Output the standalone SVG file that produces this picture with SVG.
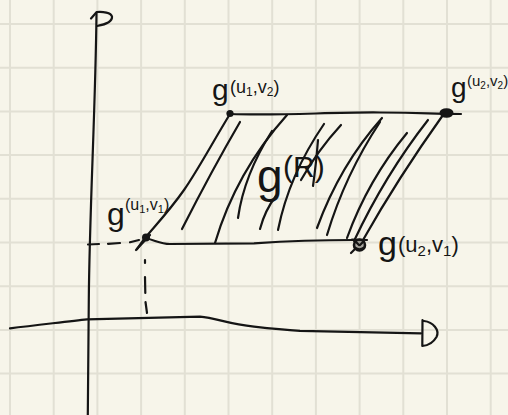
<svg xmlns="http://www.w3.org/2000/svg" width="508" height="415" viewBox="0 0 508 415">
<style>
.bg{fill:#f7f5ea}
.grid{stroke:#e2e0d4;stroke-width:2;fill:none}
.ink{stroke:#151515;stroke-width:2.2;fill:none;stroke-linecap:round;stroke-linejoin:round}
.dash{stroke:#151515;stroke-width:2.2;fill:none;stroke-linecap:round}
.dot{fill:#151515}
.lbl{font-family:"Liberation Sans",Arial,sans-serif;fill:#151515}
</style>
<rect class="bg" x="0" y="0" width="508" height="415"/>
<path class="grid" d="M10,0V415M53.7,0V415M97.4,0V415M141.1,0V415M184.8,0V415M228.5,0V415M272.2,0V415M315.9,0V415M359.6,0V415M403.3,0V415M447,0V415M490.7,0V415M0,24H508M0,67.7H508M0,111.4H508M0,155.1H508M0,198.8H508M0,242.5H508M0,286.2H508M0,329.9H508M0,373.6H508"/>

<g id="axes">
  <path class="ink" d="M96.5,13 C95.5,110 89.5,210 88.8,300 L87.8,415"/>
  <path class="ink" d="M91,18.5 L96.7,12 C103,11.5 111,12.5 112,16.5 C112.5,21 108,24 97,26"/>
  <path class="ink" d="M10,328.3 C40,325 70,321 87,319.3 L200,316.7 C216,318 228,324 254,326.7 C268,328.3 285,330 300,330.8 L421,333.3"/>
  <path class="ink" d="M422.5,320 L422.3,346 M424,321 C433,322 440,330 436.5,337 C433,343 428,345.5 422.5,346"/>
</g>

<g id="guides">
  <path class="dash" d="M88,244.5 L99,244 M108,243.8 L120,243 M130,242.2 L139,240"/>
  <path class="dash" d="M145,260 L145,263 M145,277 L145.3,293 M145.5,302 L147,313"/>
</g>

<g id="region">
  <path class="ink" d="M230,114 C280,116 330,112 380,112.5 S430,114 461,114"/>
  <path class="ink" d="M145,238 C155,240 160,244 170,244 L254,243.3 C290,241 325,240 353,240"/>
  <path class="ink" d="M230,114 C214,140 198,170 184,190 C170,210 155,226 145,238 L137,249"/>
  <path class="ink" d="M443,115 Q398,178 363,240"/>
  <g id="hatching">
    <path class="ink" d="M240,122 Q212,170 182,229"/>
    <path class="ink" d="M287,115 Q236,172 215,243"/>
    <path class="ink" d="M272,131 Q244,175 238,218"/>
    <path class="ink" d="M276,196 Q265,210 260,229"/>
    <path class="ink" d="M324,124 Q289,175 278,230"/>
    <path class="ink" d="M341,125 Q318,150 301,180"/>
    <path class="ink" d="M382,118 Q340,165 317,228"/>
    <path class="ink" d="M380,122 Q345,175 327,235"/>
    <path class="ink" d="M407,133 Q368,180 347,238"/>
    <path class="ink" d="M428,120 Q385,175 354,241"/>
    <path class="ink" d="M318,140 Q316,165 313,186"/>
  </g>
</g>

<g id="p-u1v1">
  <circle class="dot" cx="146" cy="237.5" r="4"/>
  <path class="ink" d="M136,250 L150,235"/>
  <text class="lbl" x="107" y="225" font-size="32">g</text>
  <text class="lbl" x="125" y="210" font-size="16">(u<tspan font-size="11" dy="3">1</tspan><tspan dy="-3">,v</tspan><tspan font-size="11" dy="3">1</tspan><tspan dy="-3">)</tspan></text>
</g>

<g id="p-u1v2">
  <circle class="dot" cx="230" cy="113.5" r="3.6"/>
  <text class="lbl" x="212" y="100" font-size="30">g</text>
  <text class="lbl" x="230" y="93" font-size="18">(u<tspan font-size="12" dy="3">1</tspan><tspan dy="-3">,v</tspan><tspan font-size="12" dy="3">2</tspan><tspan dy="-3">)</tspan></text>
</g>

<g id="p-u2v2">
  <ellipse class="dot" cx="446.5" cy="113" rx="7" ry="4.8"/>
  <text class="lbl" x="451" y="97" font-size="28">g</text>
  <text class="lbl" x="467" y="86" font-size="15">(u<tspan font-size="10" dy="3">2</tspan><tspan dy="-3">,v</tspan><tspan font-size="10" dy="3">2</tspan><tspan dy="-3">)</tspan></text>
</g>

<g id="p-u2v1">
  <circle cx="359.5" cy="245" r="5.5" fill="#151515" fill-opacity="0.35" stroke="#151515" stroke-width="2.6"/>
  <path class="ink" d="M356,242 l3,3 M363,242 l-3,3 M355.5,248 q4,2.5 8,0 M351,253 l4,-4 M352,239.5 L367,240"/>
  <text class="lbl" x="378" y="255" font-size="34">g</text>
  <text class="lbl" x="398" y="252" font-size="22">(u<tspan font-size="15" dy="4">2</tspan><tspan dy="-4">,v</tspan><tspan font-size="15" dy="4">1</tspan><tspan dy="-4">)</tspan></text>
</g>

<g id="label-gR">
  <text class="lbl" x="257" y="192" font-size="46">g</text>
  <text class="lbl" x="283" y="177" font-size="30">(R)</text>
</g>
</svg>
